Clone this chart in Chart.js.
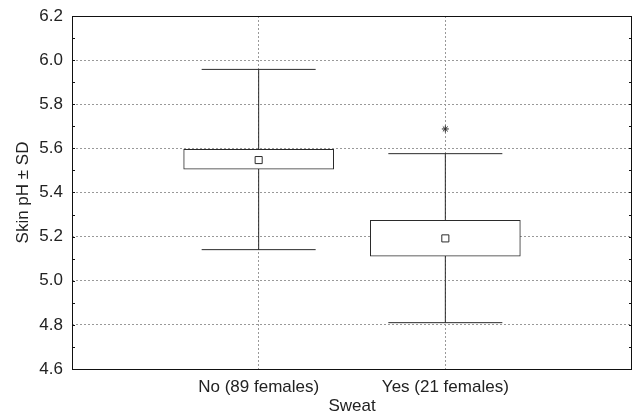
<!DOCTYPE html>
<html lang="en">
  <head>
    <meta charset="UTF-8" />
    <script src="https://cdn.jsdelivr.net/npm/chart.js@4.4.0/dist/chart.umd.min.js"></script>
    <title>Skin pH by sweat</title>
    <style>
      body {
        margin: 0;
        padding: 0;
        background: white;
        overflow: hidden;
      }
      canvas {
        display: block;
      }
    </style>
  </head>
  <body>
    <canvas id="boxChart" width="634" height="417"></canvas>
    <script>
      const categories = ['No (89 females)', 'Yes (21 females)']
      const catPos = [1, 2]
      const means = [5.547, 5.192]
      const boxLow = [5.506, 5.111]
      const boxHigh = [5.596, 5.274]
      const whiskerLow = [5.141, 4.81]
      const whiskerHigh = [5.958, 5.576]
      const outliers = [null, 5.688]
      const yTicks = ['4.6', '4.8', '5.0', '5.2', '5.4', '5.6', '5.8', '6.0', '6.2']

      const ink = '#2b2b2b'
      const font = { family: 'Liberation Sans, Arial, sans-serif', size: 17 }

      const isMajor = (v) => yTicks.includes(Number(v).toFixed(1))

      const whiskerSets = catPos.map((x, i) => ({
        type: 'line',
        data: [
          { x: x, y: whiskerLow[i] },
          { x: x, y: whiskerHigh[i] },
        ],
        borderColor: ink,
        borderWidth: 1,
        pointRadius: 0,
        order: 4,
      }))

      const frame = {
        id: 'frame',
        afterDraw(chart) {
          const { ctx, chartArea: a } = chart
          const y = chart.scales.y
          ctx.save()
          ctx.strokeStyle = '#111'
          ctx.lineWidth = 1
          y.ticks.forEach((t) => {
            const py = Math.round(y.getPixelForValue(t.value)) + 0.5
            ctx.beginPath()
            ctx.moveTo(a.left, py)
            ctx.lineTo(a.left + 3, py)
            ctx.moveTo(a.right - 3, py)
            ctx.lineTo(a.right, py)
            ctx.stroke()
          })
          ctx.strokeRect(
            Math.round(a.left) + 0.5,
            Math.round(a.top) + 0.5,
            Math.round(a.right - a.left) - 1,
            Math.round(a.bottom - a.top)
          )
          ctx.restore()
        },
      }

      const xGrid = (c) =>
        c.tick && catPos.includes(c.tick.value) ? '#999' : 'transparent'
      const yGrid = (c) =>
        c.tick && isMajor(c.tick.value) && c.tick.value > 4.65 && c.tick.value < 6.15
          ? '#999'
          : 'transparent'

      new Chart(document.getElementById('boxChart'), {
        type: 'bar',
        data: {
          datasets: [
            ...whiskerSets,
            {
              type: 'scatter',
              data: catPos
                .map((x, i) => [
                  { x: x, y: whiskerLow[i] },
                  { x: x, y: whiskerHigh[i] },
                ])
                .flat(),
              pointStyle: 'line',
              pointRadius: 57,
              borderColor: ink,
              borderWidth: 1,
              order: 3,
            },
            {
              type: 'bar',
              data: catPos.map((x, i) => ({ x: x, y: [boxLow[i], boxHigh[i]] })),
              backgroundColor: 'white',
              borderColor: ink,
              borderWidth: 1,
              borderSkipped: false,
              barThickness: 150,
              order: 2,
            },
            {
              type: 'scatter',
              data: catPos.map((x, i) => ({ x: x, y: means[i] })),
              pointStyle: 'rect',
              pointRadius: 5,
              backgroundColor: 'white',
              borderColor: ink,
              borderWidth: 1,
              order: 1,
            },
            {
              type: 'scatter',
              data: catPos
                .map((x, i) => (outliers[i] === null ? null : { x: x, y: outliers[i] }))
                .filter((p) => p),
              pointStyle: 'star',
              pointRadius: 3.5,
              borderColor: ink,
              borderWidth: 1,
              order: 0,
            },
          ],
        },
        options: {
          responsive: false,
          animation: false,
          layout: {
            autoPadding: false,
            padding: { top: 16, right: 2, left: 0, bottom: 0 },
          },
          plugins: {
            legend: { display: false },
            tooltip: { enabled: false },
          },
          scales: {
            x: {
              type: 'linear',
              min: 0,
              max: 3,
              offset: false,
              afterFit: (s) => {
                s.height = 48
                s.paddingLeft = 0
                s.paddingRight = 0
              },
              ticks: {
                stepSize: 1,
                padding: 8,
                color: '#222',
                font: font,
                maxRotation: 0,
                autoSkip: false,
                callback: (v) => {
                  const i = catPos.indexOf(v)
                  return i >= 0 ? categories[i] : ''
                },
              },
              grid: {
                offset: false,
                drawTicks: false,
                color: xGrid,
              },
              border: { display: false, dash: [2, 2] },
              title: {
                display: true,
                text: 'Sweat',
                color: '#222',
                font: font,
                padding: { top: 0, bottom: 0 },
              },
            },
            y: {
              type: 'linear',
              min: 4.6,
              max: 6.2,
              afterFit: (s) => {
                s.width = 72
                s.paddingTop = 0
                s.paddingBottom = 0
              },
              ticks: {
                stepSize: 0.1,
                padding: 9,
                color: '#222',
                font: font,
                autoSkip: false,
                callback: (v) => (isMajor(v) ? Number(v).toFixed(1) : ''),
              },
              grid: {
                drawTicks: false,
                color: yGrid,
              },
              border: { display: false, dash: [2, 2] },
              title: {
                display: true,
                text: 'Skin pH ± SD',
                color: '#222',
                font: font,
                padding: { top: 13, bottom: 0 },
              },
            },
          },
        },
        plugins: [frame],
      })
    </script>
  </body>
</html>
